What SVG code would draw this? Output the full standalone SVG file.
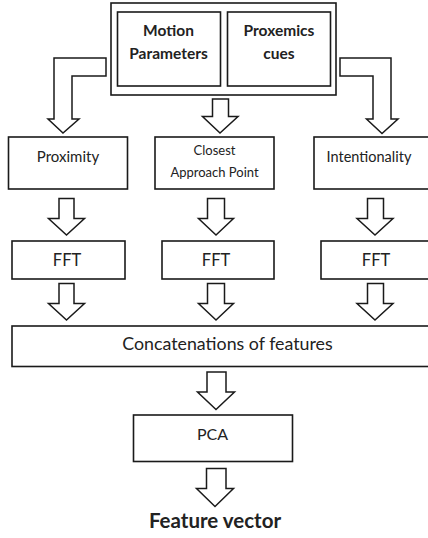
<svg xmlns="http://www.w3.org/2000/svg" width="428" height="538" viewBox="0 0 428 538">
<style>
.box{fill:#fff;stroke:#1a1a1a;stroke-width:1.6}
.arr{fill:#fff;stroke:#1a1a1a;stroke-width:1.5;stroke-linejoin:miter}
text{font-family:Lato,"Open Sans","Liberation Sans",sans-serif;fill:#222;text-anchor:middle}
.b{font-weight:bold}
</style>
<rect width="428" height="538" fill="#fff"/>
<g id="inputs">
<rect class="box" x="111" y="3" width="225" height="92" stroke-width="2"/>
</g>
<g id="motion">
<rect class="box" x="117.5" y="12" width="103" height="74"/>
<text class="b" x="168.5" y="36" font-size="15.5">Motion</text>
<text class="b" x="168.5" y="59" font-size="15.5">Parameters</text>
</g>
<g id="proxemics">
<rect class="box" x="227.5" y="12" width="103" height="74"/>
<text class="b" x="279" y="36" font-size="15.5">Proxemics</text>
<text class="b" x="279" y="59" font-size="15.5">cues</text>
</g>
<g id="proximity">
<rect class="box" x="8.5" y="137" width="119" height="52"/>
<text x="68" y="162" font-size="15">Proximity</text>
</g>
<g id="closest">
<rect class="box" x="155" y="137" width="119" height="52"/>
<text x="214.5" y="155" font-size="13">Closest</text>
<text x="214.5" y="176.5" font-size="13">Approach Point</text>
</g>
<g id="intentionality">
<rect class="box" x="314" y="137" width="120" height="52"/>
<text x="369" y="162" font-size="14.5">Intentionality</text>
</g>
<g id="fft1">
<rect class="box" x="12" y="241" width="113" height="38"/>
<text x="67" y="266" font-size="16.5">FFT</text>
</g>
<g id="fft2">
<rect class="box" x="162" y="241" width="112" height="38"/>
<text x="216" y="266" font-size="16.5">FFT</text>
</g>
<g id="fft3">
<rect class="box" x="321" y="241" width="120" height="38"/>
<text x="376" y="266" font-size="16.5">FFT</text>
</g>
<g id="concat">
<rect class="box" x="12" y="326" width="425" height="40.5"/>
<text x="227.5" y="350" font-size="17.8">Concatenations of features</text>
</g>
<g id="pca">
<rect class="box" x="133.5" y="415" width="159" height="46.5"/>
<text x="212.5" y="440" font-size="16">PCA</text>
</g>
<g id="output">
<text class="b" x="215" y="528" font-size="20.5">Feature vector</text>
</g>
<g id="connectors">
<path class="arr" d="M106,58 L54,58 L54,119 L48,119 L63,133 L79,119 L72,119 L72,76 L106,76 Z"/>
<path class="arr" d="M340,58 L391,58 L391,119 L398,119 L382,133.5 L366.5,119 L373,119 L373,76 L340,76 Z"/>
<path class="arr" d="M212.5,99 L228.5,99 L228.5,116.5 L238,116.5 L220,133 L202.5,116.5 L212.5,116.5 Z"/>
<path class="arr" d="M59,198.5 L74,198.5 L74,218.5 L84.5,218.5 L66.5,235 L48.5,218.5 L59,218.5 Z"/>
<path class="arr" d="M207.5,198.5 L224.5,198.5 L224.5,218.5 L233.5,218.5 L216,235 L198.5,218.5 L207.5,218.5 Z"/>
<path class="arr" d="M367.5,198.5 L383.5,198.5 L383.5,218.5 L393,218.5 L375,235 L357,218.5 L367.5,218.5 Z"/>
<path class="arr" d="M59,283.5 L74,283.5 L74,303.5 L84.5,303.5 L66.5,320 L48.5,303.5 L59,303.5 Z"/>
<path class="arr" d="M207.5,283.5 L224.5,283.5 L224.5,303.5 L233.5,303.5 L216,320 L198.5,303.5 L207.5,303.5 Z"/>
<path class="arr" d="M367.5,283.5 L383.5,283.5 L383.5,303.5 L393,303.5 L375,320 L357,303.5 L367.5,303.5 Z"/>
<path class="arr" d="M207,372 L226,372 L226,392 L234.5,392 L216,409.5 L197.5,392 L207,392 Z"/>
<path class="arr" d="M206.5,468.5 L226,468.5 L226,488.5 L233.5,488.5 L215,506.5 L196.5,488.5 L206.5,488.5 Z"/>
</g>
</svg>
